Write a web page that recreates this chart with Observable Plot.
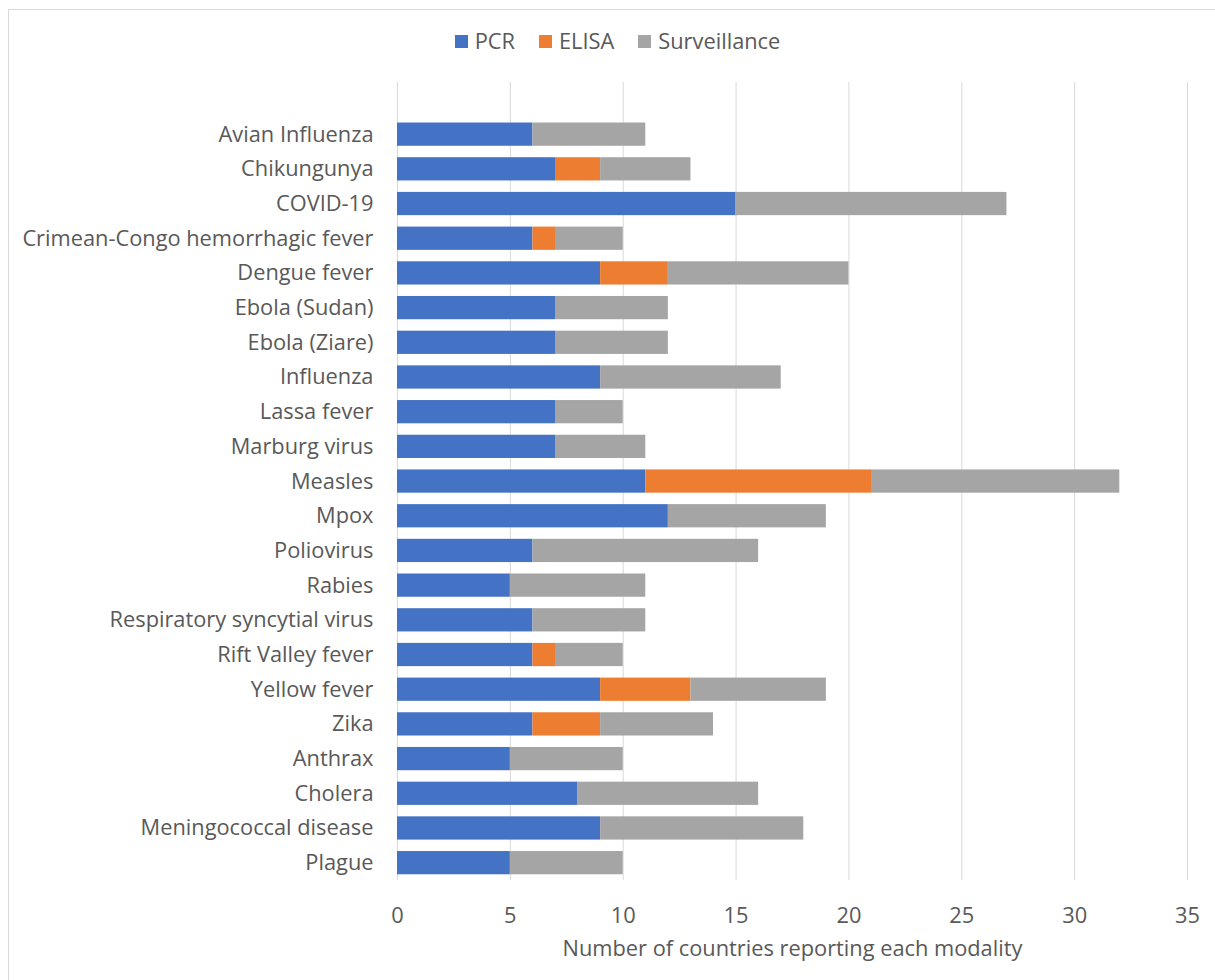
<!DOCTYPE html>
<html>
<head>
<meta charset="utf-8">
<script src="https://cdn.jsdelivr.net/npm/d3@7"></script>
<script src="https://cdn.jsdelivr.net/npm/@observablehq/plot@0.6"></script>
<style>
  html, body { margin: 0; padding: 0; background: #fff; overflow: hidden; }
  #wrap { position: relative; width: 1215px; height: 980px; font-family: "Open Sans", sans-serif; color: #595959; }
  #border { position: absolute; left: 8px; top: 9px; width: 1400px; height: 1200px; border: 1px solid #d9d9d9; box-sizing: border-box; }
  #legend { position: absolute; top: 26px; left: 0; width: 1215px; display: flex; justify-content: center; font-size: 21.8px; line-height: 30px; padding-left: 20px; box-sizing: border-box; }
  #legend .item { display: flex; align-items: center; margin: 0 12px; }
  #legend .sw { width: 13px; height: 13px; margin-right: 7px; }
  #chart { position: absolute; left: 0; top: 0; }
</style>
</head>
<body>
<div id="wrap">
  <div id="border"></div>
  <div id="legend"></div>
  <div id="chart"></div>
</div>
<script>
const categories = [
  "Avian Influenza", "Chikungunya", "COVID-19", "Crimean-Congo hemorrhagic fever",
  "Dengue fever", "Ebola (Sudan)", "Ebola (Ziare)", "Influenza", "Lassa fever",
  "Marburg virus", "Measles", "Mpox", "Poliovirus", "Rabies",
  "Respiratory syncytial virus", "Rift Valley fever", "Yellow fever", "Zika",
  "Anthrax", "Cholera", "Meningococcal disease", "Plague"
];
const pcr =          [6, 7, 15, 6, 9, 7, 7, 9, 7, 7, 11, 12, 6, 5, 6, 6, 9, 6, 5, 8, 9, 5];
const elisa =        [0, 2, 0, 1, 3, 0, 0, 0, 0, 0, 10, 0, 0, 0, 0, 1, 4, 3, 0, 0, 0, 0];
const surveillance = [5, 4, 12, 3, 8, 5, 5, 8, 3, 4, 11, 7, 10, 6, 5, 3, 6, 5, 5, 8, 9, 5];
const seriesNames = ["PCR", "ELISA", "Surveillance"];
const seriesColors = ["#4472C4", "#ED7D31", "#A5A5A5"];
const xTicks = [0, 5, 10, 15, 20, 25, 30, 35];
const xTitle = "Number of countries reporting each modality";

const seriesValues = [pcr, elisa, surveillance];
const rows = [];
categories.forEach((c, i) => {
  seriesNames.forEach((s, j) => {
    if (seriesValues[j][i] > 0) rows.push({category: c, series: s, value: seriesValues[j][i]});
  });
});

// legend
const legend = document.getElementById("legend");
seriesNames.forEach((s, j) => {
  const it = document.createElement("div");
  it.className = "item";
  const sw = document.createElement("div");
  sw.className = "sw";
  sw.style.background = seriesColors[j];
  const tx = document.createElement("span");
  tx.textContent = s;
  it.appendChild(sw); it.appendChild(tx);
  legend.appendChild(it);
});

const FS = 21.8;
const plot = Plot.plot({
  width: 1215,
  height: 980,
  marginLeft: 397,
  marginRight: 28,
  marginTop: 82,
  marginBottom: 100,
  style: {fontFamily: "'Open Sans', sans-serif", fontSize: FS + "px", color: "#595959", background: "transparent", overflow: "visible"},
  x: {domain: [0, 35], ticks: xTicks},
  y: {domain: categories, insetTop: 34.8, paddingInner: 0.33, paddingOuter: 0.165, round: false, label: null},
  color: {domain: seriesNames, range: seriesColors},
  marks: [
    Plot.gridX(xTicks, {stroke: "#d9d9d9", strokeOpacity: 1, strokeWidth: 1}),
    Plot.barX(rows, Plot.stackX({x: "value", y: "category", fill: "series", order: seriesNames})),
    Plot.axisX(xTicks, {tickSize: 0, tickPadding: 27, label: null, fill: "#595959", fontSize: FS}),
    Plot.axisY({tickSize: 0, tickPadding: 24, label: null, fill: "#595959", fontSize: FS}),
    Plot.text([xTitle], {frameAnchor: "bottom", dy: 69, fill: "#595959", fontSize: FS, lineAnchor: "middle"})
  ]
});
document.getElementById("chart").appendChild(plot);
</script>
</body>
</html>
